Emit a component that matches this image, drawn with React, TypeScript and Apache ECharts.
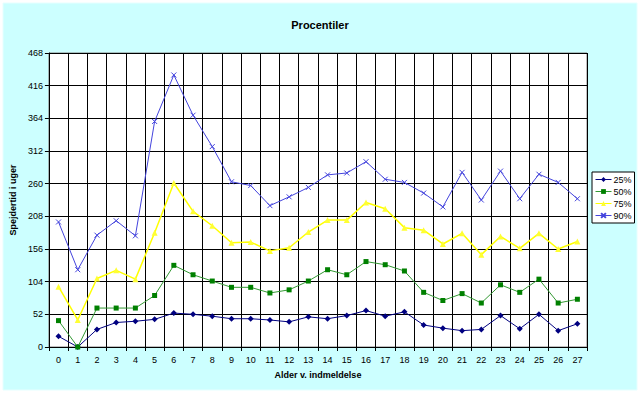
import React, { useEffect, useRef } from "react";
import * as echarts from "echarts";

const categories = [
  "0", "1", "2", "3", "4", "5", "6", "7", "8", "9", "10", "11", "12", "13",
  "14", "15", "16", "17", "18", "19", "20", "21", "22", "23", "24", "25", "26", "27",
];
const p25 = [17, 0, 28, 39, 41, 44, 54, 52, 49, 45, 45, 43, 40, 48, 45, 50, 58, 49, 56, 35, 30, 26, 28, 50, 29, 52, 26, 37];
const p50 = [42, 0, 62, 62, 62, 82, 130, 115, 105, 95, 95, 86, 91, 105, 123, 115, 136, 131, 121, 87, 74, 85, 70, 99, 87, 108, 70, 76];
const p75 = [96, 43, 109, 122, 108, 182, 261, 216, 193, 166, 167, 153, 158, 183, 202, 202, 230, 220, 190, 186, 164, 181, 147, 176, 157, 181, 156, 168];
const p90 = [199, 123, 178, 201, 177, 359, 433, 369, 319, 263, 257, 225, 239, 254, 274, 277, 295, 267, 262, 245, 223, 278, 234, 280, 236, 275, 262, 236];
const seriesNames = ["25%", "50%", "75%", "90%"];
const yMax = 468;
const yStep = 52;

const FONT = "Liberation Sans, Arial, sans-serif";

export default function App() {
  const ref = useRef<HTMLDivElement>(null);
  useEffect(() => {
    if (!ref.current) return;
    const chart = echarts.init(ref.current, undefined, { renderer: "svg" });
    chart.setOption({
      animation: false,
      backgroundColor: "#ffffff",
      graphic: [
        {
          type: "rect",
          z: -100,
          silent: true,
          shape: { x: 3, y: 3, width: 634, height: 387 },
          style: { fill: "#CCFFFF", stroke: "#E6FFFF", lineWidth: 1 },
        },
      ],
      title: {
        text: "Procentiler",
        left: "center",
        top: 14,
        textStyle: { fontFamily: FONT, fontSize: 11, fontWeight: "bold", color: "#000" },
      },
      legend: {
        orient: "vertical",
        left: 592,
        top: 172,
        backgroundColor: "#ffffff",
        borderColor: "#000000",
        borderWidth: 1,
        borderRadius: 0,
        padding: [3, 3, 3, 3],
        itemGap: 3,
        itemWidth: 16,
        itemHeight: 6,
        lineStyle: { width: 1 },
        textStyle: { fontFamily: FONT, fontSize: 9, color: "#000", padding: [0, 0, 0, -3] },
        data: seriesNames,
      },
      grid: {
        left: 47,
        right: 53,
        top: 53,
        bottom: 46,
        show: true,
        backgroundColor: "#ffffff",
        borderColor: "#808080",
        borderWidth: 1,
      },
      xAxis: {
        type: "category",
        data: categories,
        boundaryGap: true,
        name: "Alder v. indmeldelse",
        nameLocation: "middle",
        nameGap: 23,
        nameTextStyle: { fontFamily: FONT, fontSize: 9, fontWeight: "bold", color: "#000" },
        axisLine: { lineStyle: { color: "#000", width: 1 } },
        axisTick: { show: true, length: 4, lineStyle: { color: "#000" } },
        axisLabel: { fontFamily: FONT, fontSize: 9, color: "#000", margin: 8, interval: 0 },
        splitLine: { show: true, lineStyle: { color: "#000", width: 1 } },
      },
      yAxis: {
        type: "value",
        min: 0,
        max: yMax,
        interval: yStep,
        name: "Spejdertid i uger",
        nameLocation: "middle",
        nameGap: 28,
        nameRotate: 90,
        nameTextStyle: { fontFamily: FONT, fontSize: 9, fontWeight: "bold", color: "#000" },
        axisLine: { show: true, lineStyle: { color: "#000", width: 1 } },
        axisTick: { show: true, length: 4, lineStyle: { color: "#000" } },
        axisLabel: { fontFamily: FONT, fontSize: 9, color: "#000", margin: 6 },
        splitLine: { show: true, lineStyle: { color: "#000", width: 1 } },
      },
      series: [
        {
          name: seriesNames[0],
          type: "line",
          data: p25,
          symbol: "diamond",
          symbolSize: 6,
          lineStyle: { color: "#000080", width: 1 },
          itemStyle: { color: "#000080" },
        },
        {
          name: seriesNames[1],
          type: "line",
          data: p50,
          symbol: "rect",
          symbolSize: 5,
          lineStyle: { color: "#339933", width: 1 },
          itemStyle: { color: "#008000" },
        },
        {
          name: seriesNames[2],
          type: "line",
          data: p75,
          symbol: "triangle",
          symbolSize: 6,
          lineStyle: { color: "#FFFF00", width: 1.5 },
          itemStyle: { color: "#FFFF33" },
        },
        {
          name: seriesNames[3],
          type: "line",
          data: p90,
          symbol: "path://M0,0L10,10M10,0L0,10",
          symbolSize: 5,
          lineStyle: { color: "#4444DD", width: 1 },
          itemStyle: { color: "transparent", borderColor: "#4444DD", borderWidth: 1 },
        },
      ],
    });
    return () => chart.dispose();
  }, []);
  return (
    <div
      ref={ref}
      style={{ position: "absolute", left: 0, top: 0, width: 640, height: 393 }}
    />
  );
}
